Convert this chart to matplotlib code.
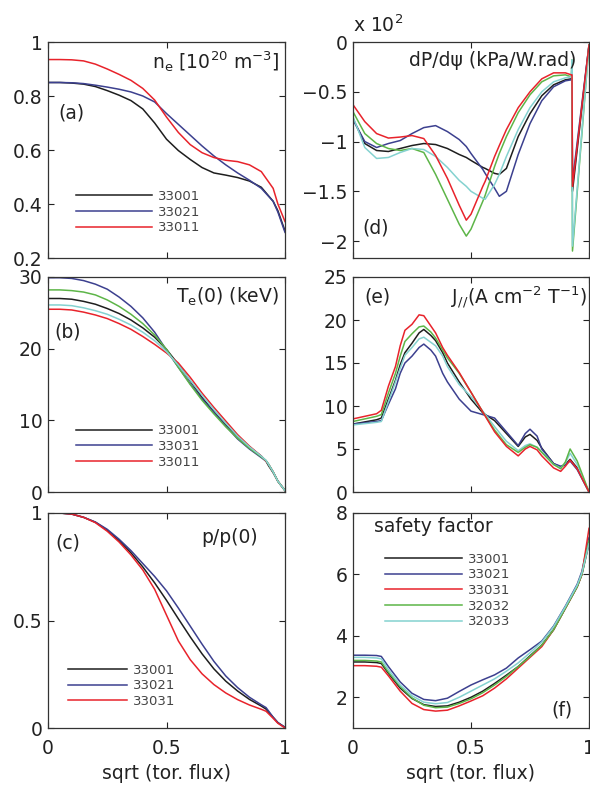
import numpy as np
import matplotlib
matplotlib.use('Agg')
import matplotlib.pyplot as plt

plt.rcParams['font.family'] = ['DejaVu Sans']
plt.rcParams['mathtext.default'] = 'regular'

# 颜色
c_black = '#1e1e1e'
c_blue = '#3c408f'
c_red = '#e8232b'
c_green = '#5db548'
c_cyan = '#84d2d0'

# (a) 电子密度
x_a = [0, 0.05, 0.1, 0.15, 0.2, 0.25, 0.3, 0.35, 0.4, 0.45, 0.5, 0.55, 0.6, 0.65, 0.7, 0.75, 0.8, 0.85, 0.9, 0.95, 0.97, 1.0]
ne_33001 = [0.850, 0.850, 0.848, 0.844, 0.835, 0.820, 0.803, 0.783, 0.752, 0.700, 0.640, 0.598, 0.565, 0.535, 0.515, 0.507, 0.498, 0.485, 0.462, 0.410, 0.375, 0.300]
ne_33021 = [0.850, 0.850, 0.849, 0.846, 0.840, 0.833, 0.825, 0.815, 0.800, 0.778, 0.735, 0.695, 0.655, 0.615, 0.578, 0.545, 0.515, 0.488, 0.458, 0.410, 0.370, 0.295]
ne_33011 = [0.935, 0.935, 0.934, 0.930, 0.918, 0.900, 0.880, 0.858, 0.828, 0.785, 0.722, 0.665, 0.620, 0.590, 0.572, 0.562, 0.557, 0.545, 0.520, 0.458, 0.400, 0.335]

# (b) 电子温度
x_b = [0, 0.05, 0.1, 0.15, 0.2, 0.25, 0.3, 0.35, 0.4, 0.45, 0.5, 0.55, 0.6, 0.65, 0.7, 0.75, 0.8, 0.85, 0.9, 0.92, 0.93, 0.95, 0.97, 1.0]
te_black = [27.0, 27.0, 26.9, 26.6, 26.2, 25.6, 24.9, 24.0, 22.9, 21.6, 19.9, 17.8, 15.5, 13.2, 11.2, 9.4, 7.7, 6.3, 5.0, 4.3, 3.7, 2.7, 1.5, 0.2]
te_blue = [29.9, 29.9, 29.8, 29.5, 29.0, 28.3, 27.2, 25.9, 24.3, 22.3, 19.8, 17.4, 15.1, 13.0, 11.1, 9.2, 7.4, 6.0, 4.8, 4.3, 3.9, 2.8, 1.5, 0.2]
te_red = [25.5, 25.5, 25.4, 25.1, 24.7, 24.2, 23.5, 22.7, 21.7, 20.6, 19.4, 18.0, 16.0, 13.8, 11.8, 9.9, 8.0, 6.4, 5.0, 4.3, 3.9, 2.8, 1.5, 0.2]
te_green = [28.2, 28.2, 28.1, 27.9, 27.5, 26.8, 25.9, 24.8, 23.5, 21.9, 19.9, 17.4, 15.0, 12.8, 10.9, 9.1, 7.5, 6.1, 4.9, 4.4, 3.9, 2.8, 1.5, 0.2]
te_cyan = [26.1, 26.1, 26.0, 25.7, 25.3, 24.8, 24.1, 23.3, 22.3, 21.1, 19.6, 17.7, 15.6, 13.5, 11.5, 9.6, 7.8, 6.3, 5.0, 4.4, 3.9, 2.8, 1.5, 0.2]

# (c) 归一化压力
x_c = [0, 0.05, 0.1, 0.15, 0.2, 0.25, 0.3, 0.35, 0.4, 0.45, 0.5, 0.55, 0.6, 0.65, 0.7, 0.75, 0.8, 0.85, 0.9, 0.92, 0.95, 0.97, 1.0]
p_33001 = [1.0, 1.0, 0.995, 0.98, 0.957, 0.92, 0.872, 0.815, 0.749, 0.675, 0.594, 0.508, 0.424, 0.345, 0.275, 0.218, 0.172, 0.133, 0.102, 0.088, 0.05, 0.025, 0.003]
p_33021 = [1.0, 1.0, 0.995, 0.98, 0.958, 0.924, 0.878, 0.825, 0.765, 0.705, 0.638, 0.558, 0.474, 0.39, 0.31, 0.242, 0.188, 0.143, 0.108, 0.095, 0.05, 0.025, 0.003]
p_33031 = [1.0, 1.0, 0.995, 0.98, 0.955, 0.915, 0.865, 0.805, 0.735, 0.645, 0.525, 0.405, 0.318, 0.252, 0.202, 0.163, 0.132, 0.107, 0.087, 0.078, 0.045, 0.022, 0.0]

# (d) dP/dpsi (x 10^2)
x_d = [0, 0.05, 0.1, 0.15, 0.2, 0.25, 0.3, 0.35, 0.4, 0.45, 0.48, 0.5, 0.55, 0.56, 0.6, 0.62, 0.65, 0.7, 0.75, 0.8, 0.85, 0.9, 0.925, 0.928, 0.93, 1.0]
dp_black = [-0.77, -1.02, -1.09, -1.10, -1.07, -1.04, -1.02, -1.03, -1.07, -1.13, -1.16, -1.19, -1.26, -1.27, -1.32, -1.33, -1.27, -0.95, -0.72, -0.54, -0.43, -0.38, -0.37, -0.37, -1.50, -0.03]
dp_blue = [-0.78, -1.00, -1.06, -1.02, -0.99, -0.92, -0.86, -0.84, -0.90, -0.98, -1.05, -1.12, -1.28, -1.32, -1.47, -1.55, -1.50, -1.13, -0.82, -0.59, -0.45, -0.39, -0.38, -0.38, -1.40, -0.03]
dp_red = [-0.63, -0.80, -0.92, -0.965, -0.955, -0.94, -0.97, -1.14, -1.37, -1.64, -1.79, -1.73, -1.45, -1.40, -1.15, -1.04, -0.88, -0.66, -0.50, -0.37, -0.31, -0.31, -0.33, -0.33, -1.45, -0.03]
dp_green = [-0.70, -0.92, -1.02, -1.07, -1.09, -1.07, -1.11, -1.33, -1.58, -1.83, -1.95, -1.88, -1.60, -1.54, -1.25, -1.12, -0.95, -0.71, -0.53, -0.40, -0.34, -0.33, -0.35, -0.18, -2.10, -0.03]
dp_cyan = [-0.75, -1.06, -1.17, -1.16, -1.11, -1.07, -1.08, -1.15, -1.26, -1.39, -1.45, -1.50, -1.57, -1.58, -1.43, -1.33, -1.15, -0.88, -0.66, -0.50, -0.40, -0.36, -0.35, -0.18, -2.05, -0.03]

# (e) 平行电流密度
x_e = [0, 0.1, 0.12, 0.15, 0.18, 0.2, 0.22, 0.25, 0.28, 0.3, 0.33, 0.35, 0.38, 0.4, 0.45, 0.5, 0.55, 0.6, 0.65, 0.7, 0.73, 0.75, 0.78, 0.8, 0.85, 0.88, 0.9, 0.92, 0.95, 1.0]
j_black = [7.9, 8.4, 8.6, 10.8, 13.0, 14.8, 16.2, 17.3, 18.5, 18.9, 18.2, 17.6, 16.2, 15.0, 12.8, 10.8, 9.2, 8.3, 6.8, 5.3, 6.4, 6.7, 6.0, 5.1, 3.3, 2.9, 3.2, 3.8, 2.8, 0.0]
j_blue = [7.9, 8.2, 8.3, 10.2, 12.0, 13.8, 15.0, 15.8, 16.8, 17.2, 16.5, 15.8, 13.8, 12.8, 10.8, 9.4, 9.0, 8.6, 7.0, 5.4, 6.8, 7.3, 6.5, 5.0, 3.3, 3.0, 3.2, 3.6, 2.6, 0.0]
j_red = [8.5, 9.1, 9.5, 12.3, 14.6, 17.0, 18.8, 19.5, 20.6, 20.5, 19.3, 18.5, 16.8, 15.9, 13.9, 11.6, 9.3, 7.0, 5.3, 4.2, 5.0, 5.3, 4.9, 4.2, 2.8, 2.4, 3.0, 3.7, 2.7, 0.0]
j_green = [8.2, 8.8, 9.0, 11.5, 13.8, 15.8, 17.5, 18.4, 19.2, 19.3, 18.6, 17.9, 16.5, 15.6, 13.8, 11.6, 9.3, 7.2, 5.5, 4.6, 5.2, 5.5, 5.2, 4.6, 3.2, 2.7, 3.5, 5.0, 3.6, 0.0]
j_cyan = [7.8, 8.1, 8.2, 10.5, 12.8, 14.4, 15.9, 16.8, 17.8, 18.0, 17.4, 17.0, 15.8, 14.6, 12.5, 11.1, 9.4, 7.6, 5.9, 4.8, 5.4, 5.6, 5.2, 4.7, 3.2, 2.8, 3.4, 4.5, 3.2, 0.0]

# (f) 安全因子
x_f = [0, 0.05, 0.1, 0.12, 0.15, 0.2, 0.25, 0.3, 0.35, 0.4, 0.45, 0.5, 0.55, 0.6, 0.65, 0.7, 0.75, 0.8, 0.85, 0.9, 0.95, 0.97, 1.0]
q_33001 = [3.15, 3.15, 3.13, 3.10, 2.78, 2.30, 1.96, 1.76, 1.70, 1.72, 1.84, 2.00, 2.20, 2.45, 2.72, 3.00, 3.35, 3.70, 4.20, 4.90, 5.60, 6.00, 7.0]
q_33021 = [3.37, 3.37, 3.36, 3.33, 3.00, 2.50, 2.13, 1.93, 1.89, 1.97, 2.19, 2.40, 2.57, 2.73, 2.95, 3.28, 3.55, 3.83, 4.32, 4.97, 5.68, 6.10, 7.2]
q_33031 = [3.03, 3.03, 3.01, 2.98, 2.70, 2.20, 1.80, 1.60, 1.55, 1.58, 1.72, 1.88, 2.05, 2.30, 2.60, 2.95, 3.30, 3.65, 4.20, 4.90, 5.60, 6.00, 7.5]
q_32032 = [3.20, 3.20, 3.18, 3.15, 2.82, 2.35, 1.98, 1.74, 1.66, 1.68, 1.80, 1.95, 2.15, 2.40, 2.68, 3.00, 3.33, 3.70, 4.20, 4.90, 5.60, 6.00, 7.1]
q_32033 = [3.30, 3.30, 3.28, 3.25, 2.90, 2.40, 2.05, 1.84, 1.79, 1.83, 2.00, 2.20, 2.40, 2.60, 2.85, 3.12, 3.45, 3.80, 4.30, 4.95, 5.65, 6.05, 7.0]

W, H = 590, 792
fig = plt.figure(figsize=(W / 100, H / 100), dpi=100)

def box(l, t, r, b):
    return [l / W, 1 - b / H, (r - l) / W, (b - t) / H]

ax_a = fig.add_axes(box(48, 42, 285, 258))
ax_b = fig.add_axes(box(48, 277, 285, 492))
ax_c = fig.add_axes(box(48, 513, 285, 728))
ax_d = fig.add_axes(box(353, 42, 589, 258))
ax_e = fig.add_axes(box(353, 277, 589, 492))
ax_f = fig.add_axes(box(353, 513, 589, 728))

lw = 1.1
txt = '#222222'
fs = 13.5

def style(ax, ylim, yticks, ylabels, bottom=False):
    ax.set_xlim(0, 1)
    ax.set_ylim(*ylim)
    ax.set_xticks([0, 0.5, 1])
    ax.set_xticklabels(['0', '0.5', '1'])
    ax.set_yticks(yticks)
    ax.set_yticklabels(ylabels)
    ax.tick_params(direction='in', top=True, right=True, length=4, width=0.8,
                   labelsize=fs, colors=txt, pad=4)
    ax.tick_params(axis='x', pad=8)
    if not bottom:
        ax.tick_params(labelbottom=False)
    else:
        ax.set_xlabel('sqrt (tor. flux)', fontsize=fs, color=txt, labelpad=4)
    for s in ax.spines.values():
        s.set_color('#333333')
        s.set_linewidth(0.9)

def leg(ax, handles, labels, x, y, hl):
    lg = ax.legend(handles, labels, loc='upper left', bbox_to_anchor=(x, y), frameon=False,
                   fontsize=9.5, handlelength=hl, handletextpad=0.45, labelspacing=0.2,
                   borderpad=0, borderaxespad=0)
    for t in lg.get_texts():
        t.set_color('#444444')

# (a)
h1, = ax_a.plot(x_a, ne_33001, color=c_black, lw=lw)
h2, = ax_a.plot(x_a, ne_33021, color=c_blue, lw=lw)
h3, = ax_a.plot(x_a, ne_33011, color=c_red, lw=lw)
style(ax_a, (0.2, 1), [0.2, 0.4, 0.6, 0.8, 1], ['0.2', '0.4', '0.6', '0.8', '1'])
ax_a.text(0.975, 0.965, 'n$_e$ [10$^{20}$ m$^{-3}$]', transform=ax_a.transAxes, ha='right', va='top', fontsize=fs, color=txt)
ax_a.text(0.045, 0.67, '(a)', transform=ax_a.transAxes, ha='left', va='center', fontsize=fs, color=txt)
leg(ax_a, [h1, h2, h3], ['33001', '33021', '33011'], 0.118, 0.315, 5.75)

# (b)
h1, = ax_b.plot(x_b, te_black, color=c_black, lw=lw)
h2, = ax_b.plot(x_b, te_blue, color=c_blue, lw=lw)
h3, = ax_b.plot(x_b, te_red, color=c_red, lw=lw)
ax_b.plot(x_b, te_green, color=c_green, lw=lw)
ax_b.plot(x_b, te_cyan, color=c_cyan, lw=lw)
style(ax_b, (0, 30), [0, 10, 20, 30], ['0', '10', '20', '30'])
ax_b.text(0.975, 0.96, 'T$_e$(0) (keV)', transform=ax_b.transAxes, ha='right', va='top', fontsize=fs, color=txt)
ax_b.text(0.025, 0.745, '(b)', transform=ax_b.transAxes, ha='left', va='center', fontsize=fs, color=txt)
leg(ax_b, [h1, h2, h3], ['33001', '33031', '33011'], 0.118, 0.315, 5.75)

# (c)
h1, = ax_c.plot(x_c, p_33001, color=c_black, lw=lw)
h2, = ax_c.plot(x_c, p_33021, color=c_blue, lw=lw)
h3, = ax_c.plot(x_c, p_33031, color=c_red, lw=lw)
style(ax_c, (0, 1), [0, 0.5, 1], ['0', '0.5', '1'], bottom=True)
ax_c.text(0.885, 0.885, 'p/p(0)', transform=ax_c.transAxes, ha='right', va='center', fontsize=fs, color=txt)
ax_c.text(0.03, 0.86, '(c)', transform=ax_c.transAxes, ha='left', va='center', fontsize=fs, color=txt)
leg(ax_c, [h1, h2, h3], ['33001', '33021', '33031'], 0.084, 0.30, 4.5)

# (d)
ax_d.plot(x_d, dp_black, color=c_black, lw=lw)
ax_d.plot(x_d, dp_blue, color=c_blue, lw=lw)
ax_d.plot(x_d, dp_green, color=c_green, lw=lw)
ax_d.plot(x_d, dp_cyan, color=c_cyan, lw=lw)
ax_d.plot(x_d, dp_red, color=c_red, lw=lw)
style(ax_d, (-2.17, 0), [-2, -1.5, -1, -0.5, 0], ['\u22122', '\u22121.5', '\u22121', '\u22120.5', '0'])
ax_d.text(0.945, 0.915, 'dP/d\u03c8 (kPa/W.rad)', transform=ax_d.transAxes, ha='right', va='center', fontsize=fs, color=txt)
ax_d.text(0.04, 0.14, '(d)', transform=ax_d.transAxes, ha='left', va='center', fontsize=fs, color=txt)
ax_d.text(0.0, 1.03, 'x 10$^2$', transform=ax_d.transAxes, ha='left', va='bottom', fontsize=fs, color=txt)

# (e)
ax_e.plot(x_e, j_black, color=c_black, lw=lw)
ax_e.plot(x_e, j_blue, color=c_blue, lw=lw)
ax_e.plot(x_e, j_cyan, color=c_cyan, lw=lw)
ax_e.plot(x_e, j_green, color=c_green, lw=lw)
ax_e.plot(x_e, j_red, color=c_red, lw=lw)
style(ax_e, (0, 25), [0, 5, 10, 15, 20, 25], ['0', '5', '10', '15', '20', '25'])
ax_e.text(0.05, 0.905, '(e)', transform=ax_e.transAxes, ha='left', va='center', fontsize=fs, color=txt)
ax_e.text(0.99, 0.905, 'J$_{//}$(A cm$^{-2}$ T$^{-1}$)', transform=ax_e.transAxes, ha='right', va='center', fontsize=fs, color=txt)

# (f)
h1, = ax_f.plot(x_f, q_33001, color=c_black, lw=lw)
h2, = ax_f.plot(x_f, q_33021, color=c_blue, lw=lw)
h3, = ax_f.plot(x_f, q_33031, color=c_red, lw=lw)
h4, = ax_f.plot(x_f, q_32032, color=c_green, lw=lw)
h5, = ax_f.plot(x_f, q_32033, color=c_cyan, lw=lw)
style(ax_f, (1, 8), [2, 4, 6, 8], ['2', '4', '6', '8'], bottom=True)
ax_f.text(0.09, 0.935, 'safety factor', transform=ax_f.transAxes, ha='left', va='center', fontsize=fs, color=txt)
ax_f.text(0.93, 0.084, '(f)', transform=ax_f.transAxes, ha='right', va='center', fontsize=fs, color=txt)
leg(ax_f, [h1, h2, h3, h4, h5], ['33001', '33021', '33031', '32032', '32033'], 0.136, 0.815, 5.8)

plt.savefig('out.png', dpi=100)
